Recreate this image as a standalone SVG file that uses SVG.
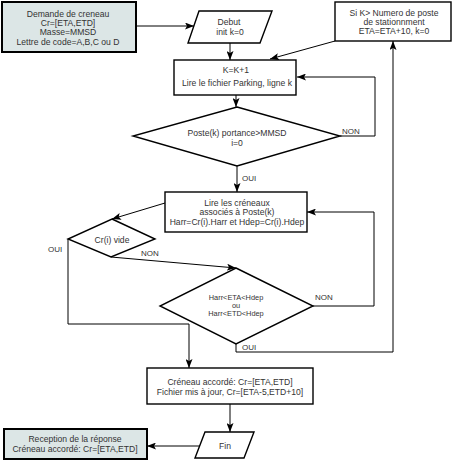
<svg xmlns="http://www.w3.org/2000/svg" width="453" height="461" viewBox="0 0 453 461">
<style>
text{font-family:"Liberation Sans",Arial,sans-serif;font-size:8.6px;fill:#333;text-anchor:middle}
.b{fill:#fff;stroke:#000;stroke-width:1.4}
.t{fill:#dce6e6;stroke:#000;stroke-width:2}
.c{fill:none;stroke:#000;stroke-width:1}
text.lb{font-size:8px;text-anchor:start;fill:#333}
text.s{font-size:7.4px}
</style>
<defs>
<marker id="a" viewBox="0 0 9 7" refX="9" refY="3.5" markerWidth="9" markerHeight="7" markerUnits="userSpaceOnUse" orient="auto">
<path d="M0,0 L9,3.5 L0,7 L2,3.5 z" fill="#000"/>
</marker>
</defs>
<rect width="453" height="461" fill="#fff"/>
<g id="connectors">
<path class="c" d="M136,26 H194" marker-end="url(#a)"/>
<path class="c" d="M230,43 V60" marker-end="url(#a)"/>
<path class="c" d="M335,41 L270,59" marker-end="url(#a)"/>
<path class="c" d="M236,95 V107" marker-end="url(#a)"/>
<path class="c" d="M340,136 H375 V77 H297" marker-end="url(#a)"/>
<path class="c" d="M237,166 V192" marker-end="url(#a)"/>
<path class="c" d="M165,203 L112,219" marker-end="url(#a)"/>
<path class="c" d="M313,306 H374 V212 H307" marker-end="url(#a)"/>
<path class="c" d="M111,257 L236,268" marker-end="url(#a)"/>
<path class="c" d="M68,239 V324 H189 V368" marker-end="url(#a)"/>
<path class="c" d="M236,344 V352 H393 V41" marker-end="url(#a)"/>
<path class="c" d="M230,404 V432" marker-end="url(#a)"/>
<path class="c" d="M200,446 H147" marker-end="url(#a)"/>
<text class="lb" x="342" y="134">NON</text>
<text class="lb" x="242" y="181">OUI</text>
<text class="lb" x="48" y="252">OUI</text>
<text class="lb" x="141" y="256">NON</text>
<text class="lb" x="315" y="300">NON</text>
<text class="lb" x="242" y="350">OUI</text>
</g>
<g id="demande">
<rect class="t" x="2" y="2" width="134" height="50"/>
<text x="68" y="17" font-size="9">Demande de creneau</text>
<text x="68" y="26" font-size="9">Cr=[ETA,ETD]</text>
<text x="68" y="35" font-size="9">Masse=MMSD</text>
<text x="68" y="45" font-size="9">Lettre de code=A,B,C ou D</text>
</g>
<g id="debut">
<polygon class="b" points="199,11 272,11 260,43 188,43"/>
<text x="229" y="25">Debut</text>
<text x="230" y="35">init k=0</text>
</g>
<g id="sik">
<rect class="b" x="335" y="2" width="116" height="39"/>
<text x="394" y="16">Si K&gt; Numero de poste</text>
<text x="394" y="25">de stationnment</text>
<text x="394" y="34">ETA=ETA+10, k=0</text>
</g>
<g id="lire-parking">
<rect class="b" x="174" y="60" width="122" height="35"/>
<text x="236" y="73">K=K+1</text>
<text x="237" y="86">Lire le fichier Parking, ligne k</text>
</g>
<g id="poste-portance">
<polygon class="b" points="237,107 340,136 237,166 133,136"/>
<text x="237" y="136">Poste(k) portance&gt;MMSD</text>
<text x="237" y="146">i=0</text>
</g>
<g id="lire-creneaux">
<rect class="b" x="165" y="192" width="142" height="40"/>
<text x="237" y="206">Lire les créneaux</text>
<text x="237" y="215">associés à Poste(k)</text>
<text x="237" y="225">Harr=Cr(i).Harr et Hdep=Cr(i).Hdep</text>
</g>
<g id="cr-vide">
<polygon class="b" points="112,219 155,239 111,257 68,239"/>
<text x="112" y="243">Cr(i) vide</text>
</g>
<g id="harr">
<polygon class="b" points="236,268 313,306 236,344 160,306"/>
<text class="s" x="236" y="300">Harr&lt;ETA&lt;Hdep</text>
<text class="s" x="236" y="308">ou</text>
<text class="s" x="236" y="316">Harr&lt;ETD&lt;Hdep</text>
</g>
<g id="accorde">
<rect class="b" x="147" y="368" width="166" height="36"/>
<text x="230" y="385">Créneau accordé: Cr=[ETA,ETD]</text>
<text x="230" y="395">Fichier mis à jour, Cr=[ETA-5,ETD+10]</text>
</g>
<g id="fin">
<polygon class="b" points="205,432 254,432 244,458 195,458"/>
<text x="225" y="449">Fin</text>
</g>
<g id="reception">
<rect class="t" x="4" y="429" width="143" height="30"/>
<text x="75" y="442">Reception de la réponse</text>
<text x="75" y="452">Créneau accordé: Cr=[ETA,ETD]</text>
</g>
</svg>
